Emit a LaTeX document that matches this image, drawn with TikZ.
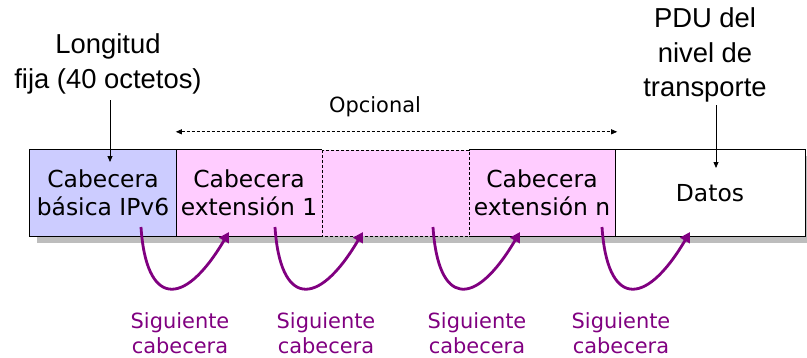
\documentclass[tikz,border=0pt]{standalone}
\usepackage{fontspec}
\setmainfont[Ligatures=NoCommon]{DejaVu Sans}
\newfontfamily\notefont[Ligatures=NoCommon]{Liberation Sans}
\usetikzlibrary{arrows.meta,calc}
\definecolor{hdrblue}{HTML}{CCCCFF}
\definecolor{hdrpink}{HTML}{FFCCFF}
\definecolor{shadowgray}{HTML}{BDBDBD}
\definecolor{nxtpurple}{HTML}{800080}
\begin{document}
\begin{tikzpicture}[x=1bp,y=-1bp,
  seg/.style={rectangle, minimum height=86bp, inner sep=0pt, align=center, font=\fontsize{23.5}{28}\selectfont},
  note/.style={align=center, inner sep=0pt, font=\notefont\fontsize{27.5}{35}\selectfont},
  nextlbl/.style={align=center, inner sep=0pt, text=nxtpurple, font=\fontsize{21}{25}\selectfont},
  nextarr/.style={draw=nxtpurple, line width=2.8bp, -{Triangle[length=10bp,width=11bp]}},
  ptr/.style={line width=0.8bp, -{Triangle[length=6bp,width=5bp]}},
  border/.style={line width=0.8bp},
  dborder/.style={line width=0.6bp, dash pattern=on 3bp off 2bp}
]
\useasboundingbox (0,0) rectangle (807,357);
% shadow
\fill[shadowgray] (37,156) rectangle (812,243);
% segments
\node[seg, fill=hdrblue, minimum width=146bp] (b1) at (103,193) {Cabecera\\básica IPv6};
\node[seg, fill=hdrpink, minimum width=146bp] (b2) at (249,193) {Cabecera\\extensión 1};
\node[seg, fill=hdrpink, minimum width=147bp] (b3) at (395.5,193) {};
\node[seg, fill=hdrpink, minimum width=146bp] (b4) at (542,193) {Cabecera\\extensión n};
\node[seg, fill=white, minimum width=190bp] (b5) at (710,193) {Datos};
% outlines
\draw[border] (b3.north west) -- (b1.north west) -- (b1.south west) -- (b3.south west);
\draw[border] (b3.north east) -- (b5.north east) -- (b5.south east) -- (b3.south east);
\draw[border] (b1.north east) -- (b1.south east);
\draw[border] (b4.north east) -- (b4.south east);
\draw[dborder] (b3.north west) rectangle (b3.south east);
% top notes
\node[note] (lon) at (108,64) {Longitud\\fija (40 octetos)};
\node[note] (pdu) at (705,55) {PDU del\\nivel de\\transporte};
\coordinate (lonfrom) at (110,100);
\coordinate (lonto) at (110,162);
\coordinate (pdufrom) at (716,105);
\coordinate (pduto) at (716,168);
\draw[ptr] (lonfrom) -- (lonto);
\draw[ptr] (pdufrom) -- (pduto);
% optional span
\node[font=\fontsize{21}{25}\selectfont, inner sep=0pt] (opc) at (375,107) {Opcional};
\coordinate (opl) at ($(b2.north west)+(0,-18)$);
\coordinate (opr) at ($(b4.north east)+(2,-18)$);
\draw[dborder, line width=0.7bp, {Triangle[length=6bp,width=5bp]}-{Triangle[length=6bp,width=5bp]}] (opl) -- (opr);
% next-header arrows
\coordinate (s1) at (141,227); \coordinate (e1) at (229,232);
\coordinate (s2) at (275,227); \coordinate (e2) at (363,232);
\coordinate (s3) at (433,227); \coordinate (e3) at (520,232);
\coordinate (s4) at (602,227); \coordinate (e4) at (690,232);
\foreach \i in {1,2,3,4} {
  \draw[nextarr] (s\i) .. controls +(5,78) and +(-46,78) .. (e\i);
}
\node[nextlbl] (l1) at (180,333) {Siguiente\\cabecera};
\node[nextlbl] (l2) at (326,333) {Siguiente\\cabecera};
\node[nextlbl] (l3) at (477,333) {Siguiente\\cabecera};
\node[nextlbl] (l4) at (621,333) {Siguiente\\cabecera};
\end{tikzpicture}
\end{document}
